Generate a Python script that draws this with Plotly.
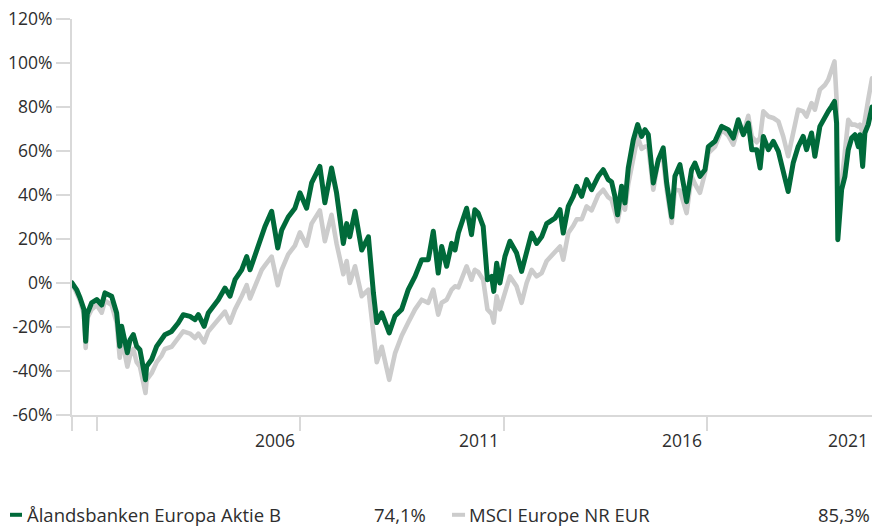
import plotly.graph_objects as go
import pandas as pd

# ---- data ----
dates = [
    "2001-05-21", "2001-07-01", "2001-08-01", "2001-09-05", "2001-09-21", "2001-10-05",
    "2001-11-13", "2001-12-29", "2002-02-12", "2002-03-13", "2002-05-12", "2002-06-26",
    "2002-07-24", "2002-08-10", "2002-09-30", "2002-10-24", "2002-11-23", "2002-12-23",
    "2003-01-21", "2003-03-12", "2003-03-22", "2003-05-06", "2003-06-20", "2003-08-04",
    "2003-09-02", "2003-11-01", "2003-12-31", "2004-02-14", "2004-04-15", "2004-05-30",
    "2004-06-29", "2004-08-20", "2004-09-26", "2004-12-25", "2005-02-23", "2005-04-09",
    "2005-05-24", "2005-07-23", "2005-09-06", "2005-10-06", "2005-12-05", "2006-01-19",
    "2006-02-17", "2006-04-18", "2006-06-12", "2006-07-17", "2006-09-14", "2006-11-13",
    "2006-12-28", "2007-02-26", "2007-04-12", "2007-06-25", "2007-08-09", "2007-10-08",
    "2007-11-22", "2008-01-22", "2008-02-21", "2008-03-20", "2008-05-06", "2008-07-05",
    "2008-09-03", "2008-10-18", "2008-11-17", "2009-01-01", "2009-03-09", "2009-04-30",
    "2009-06-29", "2009-08-27", "2009-10-27", "2009-12-26", "2010-02-23", "2010-04-09",
    "2010-05-23", "2010-06-23", "2010-08-07", "2010-09-21", "2010-10-21", "2010-11-20",
    "2011-02-02", "2011-03-18", "2011-04-17", "2011-05-17", "2011-07-01", "2011-08-08",
    "2011-09-15", "2011-10-04", "2011-10-30", "2011-11-28", "2012-01-12", "2012-02-26",
    "2012-04-26", "2012-06-10", "2012-07-25", "2012-09-08", "2012-10-23", "2012-12-07",
    "2013-01-21", "2013-04-06", "2013-05-21", "2013-06-19", "2013-08-03", "2013-09-17",
    "2013-10-18", "2013-12-02", "2014-01-15", "2014-03-01", "2014-04-29", "2014-06-13",
    "2014-07-28", "2014-08-27", "2014-09-26", "2014-10-20", "2014-11-25", "2014-12-25",
    "2015-01-24", "2015-03-10", "2015-04-18", "2015-05-24", "2015-06-23", "2015-07-23",
    "2015-09-06", "2015-10-21", "2015-12-04", "2016-01-04", "2016-02-18", "2016-03-18",
    "2016-05-02", "2016-07-01", "2016-08-15", "2016-09-14", "2016-10-29", "2016-12-13",
    "2017-01-12", "2017-03-13", "2017-05-12", "2017-07-10", "2017-08-24", "2017-10-08",
    "2017-11-22", "2018-01-06", "2018-02-06", "2018-03-23", "2018-04-22", "2018-05-21",
    "2018-07-05", "2018-08-19", "2018-10-03", "2018-11-16", "2018-12-30", "2019-02-13",
    "2019-03-30", "2019-05-14", "2019-06-13", "2019-07-28", "2019-08-27", "2019-10-11",
    "2019-11-25", "2019-12-25", "2020-01-24", "2020-02-19", "2020-03-09", "2020-03-16",
    "2020-03-20", "2020-04-23", "2020-05-23", "2020-06-22", "2020-07-23", "2020-08-21",
    "2020-09-20", "2020-10-05", "2020-10-29", "2020-11-18", "2020-12-18", "2021-01-21",
]

fund_values = [
    0, -3, -6.7, -12, -26.5, -14,
    -9, -7.5, -10, -4.5, -6, -13.6,
    -28.8, -19.7, -31.7, -25.8, -23.5, -28.8,
    -30.3, -44, -37.9, -34.8, -28.8, -25.8,
    -23.5, -22, -18.2, -14.4, -15.2, -16.7,
    -14.4, -19.7, -13.6, -7.6, -2.3, -6,
    1.5, 6, 12, 6, 15, 22.7,
    25.7, 32.6, 15.9, 24, 30, 34,
    41, 34, 45.5, 53, 36.5, 52.3,
    41, 18, 27, 21, 32.6, 15,
    21, -4.5, -18, -13.6, -22.7, -15,
    -12, -3, 3, 10.6, 10.6, 23.5,
    4.5, 16.6, 7.6, 18, 15, 22.7,
    34, 22, 33.3, 31.8, 25.7, 1.5,
    3, -3.8, 9, 0, 12, 19,
    13.6, 5.3, 15, 22.7, 18, 21,
    27, 29.5, 33.3, 22.7, 34.8, 39.4,
    43.9, 39.4, 47, 42.4, 48.5, 51.5,
    47, 46, 39.4, 31, 44, 36.4,
    52.3, 65, 72, 66.6, 69.7, 67.4,
    45.5, 56, 61.4, 45.5, 30, 48.5,
    53.8, 37, 51.5, 54.5, 48.5, 51.5,
    62, 64.4, 71.2, 69.7, 65.9, 74.2,
    67.4, 72.7, 60.6, 60.6, 52.3, 66.6,
    60.6, 64.4, 59.8, 51.5, 41.6, 54.5,
    62, 66.6, 60.6, 68.2, 57.6, 71.2,
    75.7, 78, 80.3, 82.5, 72.7, 45.5,
    19.7, 42.4, 48.5, 60.6, 66, 67.4,
    62, 67.4, 53, 68.2, 72, 80,
]

index_values = [
    0, -4, -8, -14, -29.5, -16,
    -12, -10, -13.5, -8, -10, -18,
    -34, -25, -38, -33, -30, -36,
    -38, -50, -44, -41, -36, -33,
    -30, -29, -25, -22, -23, -25,
    -23, -27, -22, -17, -13, -18,
    -12, -6, -1, -7, 0, 6,
    8, 12, -1, 6, 13, 17,
    23, 17, 27, 33, 19, 31,
    18, 4, 10, 0, 7.6, -6,
    -3, -24, -36, -29, -44, -32,
    -24, -18, -12, -7.6, -9, -3,
    -14.4, -9, -7.6, -3, -1.5, -2,
    7.6, 1.5, 6, 5, 1.5, -12,
    -14, -18, -6, -12, -4, 3,
    -1.5, -9, 0, 6, 3, 4.5,
    10, 14, 16.6, 10.6, 22.7, 26,
    29, 29, 34.8, 33, 40, 42.4,
    39, 37.9, 33, 28, 37, 33.3,
    45, 58, 66.6, 61, 62, 62,
    42.4, 56, 56, 42.4, 27.3, 42.4,
    42, 31.8, 48.5, 45, 41, 50,
    59, 62, 69.7, 67, 62.9, 70.5,
    68, 76, 66.6, 64, 66, 78,
    75.7, 75, 73.5, 66.6, 57.6, 68.2,
    78.8, 78, 75.7, 81.8, 78.8, 87.9,
    90, 92.4, 97.7, 100.7, 83.3, 50,
    30, 45.5, 60, 74.2, 72, 72,
    71.2, 72, 68, 75.7, 83.3, 93,
]

series_names = ["Ålandsbanken Europa Aktie B", "MSCI Europe NR EUR"]
series_returns = ["74,1%", "85,3%"]
series_colors = ["#006a3a", "#cccccc"]

y_tick_values = [-60, -40, -20, 0, 20, 40, 60, 80, 100, 120]
y_tick_labels = ["-60%", "-40%", "-20%", "0%", "20%", "40%", "60%", "80%", "100%", "120%"]
x_tick_dates = ["2002-01-01", "2007-01-01", "2012-01-01", "2017-01-01"]
x_tick_labels = ["2006", "2011", "2016", "2021"]

# ---- figure ----
dts = pd.to_datetime(dates)
FONT = "Open Sans"
TEXT = "#2e2e2e"
AXIS = "#d9d9d9"

fig = go.Figure()
fig.add_trace(go.Scatter(x=dts, y=index_values, mode="lines", name=series_names[1],
                         line=dict(color=series_colors[1], width=4.6), hoverinfo="skip"))
fig.add_trace(go.Scatter(x=dts, y=fund_values, mode="lines", name=series_names[0],
                         line=dict(color=series_colors[0], width=5), hoverinfo="skip"))

start, end = dts[0], dts[-1]
tickvals = [start] + list(pd.to_datetime(x_tick_dates))

fig.update_xaxes(range=[start, end], tickvals=tickvals, ticktext=[""] * len(tickvals),
                 ticks="outside", ticklen=14, tickwidth=2, tickcolor=AXIS,
                 showline=True, linecolor=AXIS, linewidth=2, showgrid=False, zeroline=False)
fig.update_yaxes(range=[-60, 120], tickvals=y_tick_values, ticktext=y_tick_labels,
                 ticks="outside", ticklen=14, tickwidth=2, tickcolor=AXIS,
                 showline=True, linecolor=AXIS, linewidth=2, showgrid=False, zeroline=False,
                 tickfont=dict(family=FONT, size=17.5, color=TEXT))

annotations = []
# year labels, right-aligned to the end of each labelled year
for lab in x_tick_labels:
    year_end = pd.Timestamp(f"{int(lab) + 1}-01-01")
    if year_end <= end:
        annotations.append(dict(x=year_end, xref="x", y=-0.062, yref="paper", text=lab,
                                showarrow=False, xanchor="right", yanchor="middle", xshift=-3,
                                font=dict(family=FONT, size=17.5, color=TEXT)))
    else:
        annotations.append(dict(x=1, xref="paper", y=-0.062, yref="paper", text=lab,
                                showarrow=False, xanchor="right", yanchor="middle", xshift=-2,
                                font=dict(family=FONT, size=17.5, color=TEXT)))

# custom legend row
leg_y = -0.252
leg_font = dict(family=FONT, size=18.5, color=TEXT)
annotations += [
    dict(x=-0.05875, xref="paper", y=leg_y, yref="paper", text=series_names[0],
         showarrow=False, xanchor="left", yanchor="middle", font=leg_font),
    dict(x=0.445, xref="paper", y=leg_y, yref="paper", text=series_returns[0],
         showarrow=False, xanchor="right", yanchor="middle", font=leg_font),
    dict(x=0.49375, xref="paper", y=leg_y, yref="paper", text=series_names[1],
         showarrow=False, xanchor="left", yanchor="middle", font=leg_font),
    dict(x=1.0, xref="paper", y=leg_y, yref="paper", text=series_returns[1],
         showarrow=False, xanchor="right", yanchor="middle", font=leg_font),
]
shapes = [
    dict(type="line", xref="paper", yref="paper", x0=-0.0775, x1=-0.0625,
         y0=leg_y, y1=leg_y, line=dict(color=series_colors[0], width=4)),
    dict(type="line", xref="paper", yref="paper", x0=0.475, x1=0.4913,
         y0=leg_y, y1=leg_y, line=dict(color=series_colors[1], width=4)),
]

fig.update_layout(
    width=872, height=526,
    margin=dict(l=72, r=0, t=19, b=111),
    paper_bgcolor="white", plot_bgcolor="white",
    showlegend=False,
    annotations=annotations, shapes=shapes,
    font=dict(family=FONT, color=TEXT),
)

post = """
document.documentElement.style.margin='0';
document.body.style.margin='0';
document.body.style.padding='0';
document.body.style.overflow='hidden';
document.querySelectorAll('.scatterlayer path.js-line').forEach(function(p){
  p.style.strokeLinejoin='round'; p.style.strokeLinecap='round';
});
"""
fig.write_html("out.html", post_script=post, config={"displayModeBar": False})
